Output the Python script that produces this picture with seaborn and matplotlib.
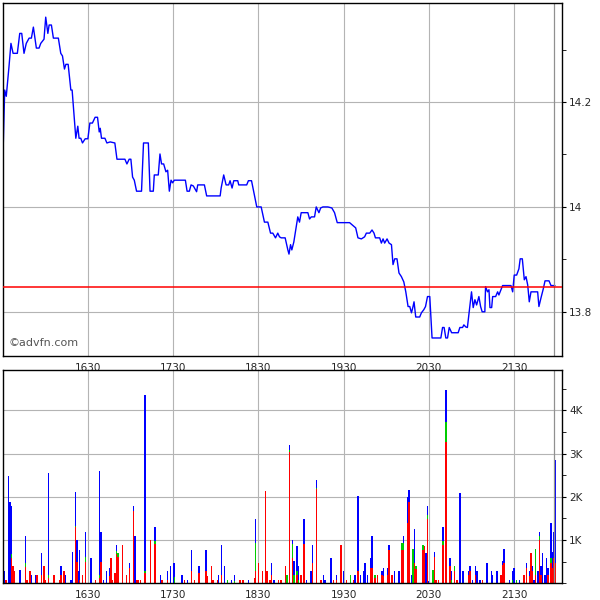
import numpy as np
import pandas as pd
import seaborn as sns
import matplotlib.pyplot as plt
from matplotlib.ticker import FixedLocator, MultipleLocator

# --- price trace (minutes after 15:30) ---
price_minute = [0, 1.2, 2.3, 4.2, 5.6, 7.1, 10.1, 11.8, 13.2, 14.8,
                16.4, 18.4, 20.0, 21.4, 23.5, 25.4, 26.6, 28.9, 30.1, 31.6,
                32.5, 34.1, 35.5, 39.0, 40.7, 41.9, 43.3, 44.3, 45.9, 47.8,
                48.7, 51.3, 52.7, 53.6, 54.8, 56.0, 57.9, 59.8, 61.2, 63.0,
                64.9, 66.6, 67.8, 68.5, 69.4, 71.8, 73.2, 75.5, 78.8, 80.3,
                85.9, 87.3, 88.9, 90.1, 91.3, 92.5, 94.1, 97.6, 99.0, 102.4,
                103.6, 105.9, 106.6, 109.4, 110.6, 111.7, 113.2, 114.8, 116.0, 117.2,
                118.4, 119.5, 120.7, 128.5, 129.7, 131.3, 132.5, 134.1, 136.4, 137.2,
                141.9, 143.5, 153.0, 153.7, 155.5, 157.2, 159.0, 160.0, 161.4, 162.6,
                165.4, 166.1, 171.7, 172.9, 175.1, 176.0, 177.2, 178.8, 181.9, 184.2,
                186.6, 188.5, 190.1, 192.0, 193.6, 194.8, 196.0, 198.8, 200.7, 201.5,
                202.6, 203.5, 204.9, 206.6, 207.7, 208.9, 210.1, 214.8, 216.0, 217.2,
                219.5, 220.7, 222.6, 223.8, 225.4, 228.9, 231.7, 233.6, 235.5, 244.2,
                248.5, 250.1, 252.5, 254.8, 256.0, 258.4, 260.0, 261.4, 262.4, 265.4,
                266.6, 267.8, 268.9, 270.6, 272.0, 273.7, 274.8, 276.0, 277.6, 279.0,
                280.7, 282.4, 283.8, 285.4, 286.6, 287.8, 288.9, 289.6, 290.8, 293.6,
                294.8, 296.5, 297.7, 299.1, 300.7, 302.3, 308.5, 309.7, 310.8, 312.0,
                313.2, 314.4, 316.1, 320.7, 321.9, 323.8, 324.7, 326.1, 327.2, 328.2,
                330.1, 331.3, 332.5, 333.7, 335.3, 336.5, 337.6, 339.5, 340.0, 341.4,
                342.4, 343.1, 344.3, 345.0, 347.1, 348.5, 349.4, 350.8, 352.0, 357.9,
                359.1, 360.2, 361.9, 363.5, 364.4, 365.9, 367.3, 368.5, 369.7, 370.8,
                372.0, 376.7, 377.6, 379.1, 380.7, 381.9, 384.7, 386.1, 388.9]
price_value = [14.10, 14.223, 14.211, 14.267, 14.312, 14.293, 14.293, 14.331, 14.331, 14.293,
               14.312, 14.322, 14.322, 14.343, 14.303, 14.303, 14.312, 14.320, 14.362, 14.331,
               14.347, 14.347, 14.322, 14.322, 14.293, 14.288, 14.263, 14.272, 14.272, 14.223,
               14.223, 14.131, 14.154, 14.131, 14.131, 14.122, 14.130, 14.130, 14.160, 14.160,
               14.171, 14.171, 14.143, 14.150, 14.131, 14.131, 14.122, 14.124, 14.122, 14.091,
               14.091, 14.082, 14.091, 14.091, 14.057, 14.051, 14.030, 14.030, 14.122, 14.122,
               14.030, 14.030, 14.061, 14.061, 14.101, 14.082, 14.082, 14.067, 14.070, 14.030,
               14.051, 14.046, 14.051, 14.051, 14.030, 14.030, 14.042, 14.040, 14.029, 14.042,
               14.042, 14.021, 14.021, 14.036, 14.061, 14.042, 14.042, 14.050, 14.036, 14.050,
               14.050, 14.042, 14.042, 14.050, 14.050, 14.038, 14.023, 14.000, 14.000, 13.971,
               13.971, 13.950, 13.950, 13.941, 13.950, 13.943, 13.941, 13.941, 13.918, 13.910,
               13.928, 13.918, 13.933, 13.962, 13.981, 13.971, 13.989, 13.989, 13.977, 13.981,
               13.981, 14.000, 13.989, 13.998, 14.000, 14.000, 13.998, 13.989, 13.970, 13.970,
               13.960, 13.941, 13.939, 13.943, 13.950, 13.950, 13.956, 13.950, 13.941, 13.941,
               13.931, 13.939, 13.931, 13.939, 13.931, 13.928, 13.890, 13.901, 13.901, 13.874,
               13.867, 13.857, 13.838, 13.810, 13.810, 13.798, 13.810, 13.819, 13.790, 13.790,
               13.798, 13.804, 13.810, 13.829, 13.829, 13.750, 13.750, 13.770, 13.770, 13.750,
               13.750, 13.770, 13.760, 13.760, 13.770, 13.770, 13.775, 13.771, 13.770, 13.794,
               13.838, 13.808, 13.823, 13.813, 13.829, 13.810, 13.800, 13.800, 13.848, 13.838,
               13.842, 13.808, 13.808, 13.829, 13.829, 13.838, 13.832, 13.842, 13.850, 13.850,
               13.838, 13.870, 13.870, 13.882, 13.901, 13.901, 13.861, 13.867, 13.851, 13.819,
               13.838, 13.838, 13.810, 13.827, 13.844, 13.859, 13.859, 13.850, 13.850]
prev_close = 13.848

# --- volume per minute, split by trade colour ---
bar_minute = [0, 1, 2, 4, 5, 6, 7, 8, 12, 16, 17, 19, 20, 23, 24, 27, 29, 30, 32, 36,
              40, 41, 43, 44, 48, 49, 51, 52, 53, 54, 56, 58, 62, 65, 68, 69, 71, 73, 75, 76,
              77, 79, 80, 81, 84, 87, 89, 92, 93, 94, 95, 97, 100, 104, 107, 111, 112, 116, 118, 120,
              121, 126, 128, 130, 133, 135, 138, 143, 144, 147, 148, 151, 152, 154, 156, 158, 161, 163, 167, 169,
              173, 177, 178, 180, 183, 185, 186, 188, 189, 191, 194, 196, 199, 200, 202, 204, 205, 207, 208, 210,
              212, 214, 217, 218, 221, 224, 226, 227, 231, 233, 235, 238, 240, 242, 245, 247, 248, 250, 252, 254,
              255, 257, 259, 260, 262, 264, 267, 268, 271, 272, 274, 276, 279, 281, 282, 285, 286, 288, 289, 290,
              291, 296, 297, 298, 299, 300, 303, 304, 305, 307, 310, 312, 315, 316, 318, 320, 322, 324, 328, 329,
              331, 333, 334, 336, 338, 341, 344, 345, 348, 351, 352, 353, 357, 359, 360, 362, 364, 367, 369, 371,
              372, 373, 374, 375, 377, 378, 379, 380, 382, 383, 384, 386, 387, 388, 389]
vol_red = [2220, 0, 85, 0, 0, 590, 395, 280, 0, 370, 85, 280, 0, 0, 186, 190, 395, 85, 120, 186,
           85, 190, 280, 0, 0, 0, 1290, 500, 0, 85, 186, 480, 0, 85, 110, 480, 0, 0, 160, 590,
           85, 240, 670, 600, 885, 190, 350, 1674, 0, 85, 85, 85, 240, 1000, 900, 0, 85, 85, 0, 0,
           0, 0, 85, 0, 280, 85, 240, 280, 160, 395, 85, 85, 0, 186, 0, 0, 0, 0, 85, 85,
           0, 120, 280, 458, 280, 2140, 280, 85, 190, 0, 85, 85, 395, 0, 3030, 590, 0, 186, 0, 186,
           900, 0, 0, 477, 2180, 85, 0, 0, 0, 85, 85, 885, 0, 85, 0, 85, 0, 280, 0, 0,
           0, 0, 350, 350, 120, 186, 186, 160, 186, 776, 186, 0, 0, 760, 760, 1400, 1870, 0, 0, 477,
           320, 776, 853, 0, 1480, 0, 0, 605, 85, 85, 876, 3264, 395, 0, 279, 85, 0, 0, 186, 280,
           0, 186, 0, 0, 85, 0, 0, 0, 0, 186, 430, 477, 0, 0, 0, 0, 0, 186, 350, 160,
           705, 280, 0, 190, 0, 992, 190, 0, 0, 0, 190, 458, 350, 589, 477]
vol_green = [0, 0, 0, 0, 0, 80, 0, 0, 0, 100, 0, 0, 0, 0, 0, 0, 0, 0, 60, 0,
             0, 0, 0, 0, 0, 0, 40, 0, 0, 0, 0, 120, 0, 0, 80, 0, 0, 0, 0, 0,
             0, 0, 80, 100, 0, 0, 0, 0, 0, 0, 0, 0, 50, 0, 70, 0, 0, 0, 0, 0,
             150, 0, 0, 0, 0, 0, 0, 0, 0, 0, 0, 0, 0, 0, 0, 85, 0, 60, 0, 0,
             0, 0, 660, 0, 0, 0, 0, 0, 0, 0, 0, 0, 0, 186, 50, 320, 200, 100, 85, 0,
             0, 0, 0, 0, 30, 0, 0, 0, 0, 0, 0, 0, 0, 0, 186, 0, 0, 0, 0, 0,
             0, 0, 0, 0, 70, 0, 0, 0, 0, 0, 0, 0, 0, 180, 160, 0, 0, 0, 783, 0,
             80, 110, 0, 0, 100, 0, 295, 0, 0, 0, 100, 456, 0, 85, 116, 0, 0, 0, 0, 0,
             0, 0, 0, 0, 0, 0, 0, 0, 0, 0, 0, 0, 0, 85, 0, 85, 0, 0, 0, 0,
             0, 0, 0, 593, 0, 90, 0, 0, 0, 0, 0, 130, 0, 0, 0]
vol_blue = [0, 280, 0, 2490, 1890, 1120, 0, 0, 295, 620, 0, 0, 186, 186, 0, 515, 0, 0, 2360, 0,
            0, 205, 0, 186, 85, 730, 770, 500, 280, 680, 0, 590, 590, 0, 2400, 700, 85, 280, 190, 0,
            0, 0, 135, 0, 0, 0, 110, 116, 1093, 0, 0, 0, 4060, 0, 320, 186, 0, 200, 395, 458,
            310, 186, 0, 85, 500, 0, 155, 500, 0, 0, 0, 0, 186, 700, 395, 0, 85, 130, 0, 0,
            85, 0, 540, 0, 0, 0, 0, 0, 270, 85, 0, 0, 0, 0, 110, 90, 312, 570, 310, 0,
            580, 85, 280, 410, 190, 0, 186, 85, 590, 0, 100, 0, 280, 0, 0, 0, 186, 1745, 186, 280,
            458, 186, 240, 740, 0, 0, 100, 190, 160, 110, 0, 280, 280, 0, 170, 600, 290, 186, 0, 770,
            0, 0, 0, 705, 210, 40, 0, 116, 0, 0, 324, 762, 194, 200, 0, 0, 2086, 280, 100, 115,
            85, 210, 280, 85, 0, 458, 280, 186, 280, 0, 82, 306, 85, 195, 350, 0, 85, 0, 108, 120,
            0, 115, 85, 0, 280, 104, 205, 705, 190, 589, 160, 815, 371, 597, 2384]

tick_minutes = [60, 120, 180, 240, 300, 360]
tick_labels = ['1630', '1730', '1830', '1930', '2030', '2130']
price_ticks = [13.8, 14.0, 14.2]
price_tick_labels = ['13.8', '14', '14.2']
vol_ticks = [1000, 2000, 3000, 4000]
vol_tick_labels = ['1K', '2K', '3K', '4K']

vol = pd.DataFrame({'minute': bar_minute, 'red': vol_red,
                    'green': vol_green, 'blue': vol_blue})
vol_long = vol.melt(id_vars='minute', var_name='kind', value_name='volume')

sns.set_style('white')
plt.rcParams['font.family'] = ['DejaVu Sans']

fig = plt.figure(figsize=(6, 6), dpi=100)
ax1 = fig.add_axes([0.005, 0.407, 0.932, 0.588])
ax2 = fig.add_axes([0.005, 0.028, 0.932, 0.355])

grid_kw = dict(color='#b4b4b4', linewidth=0.8)

# price panel
sns.lineplot(x=price_minute, y=price_value, ax=ax1, color='#0000ff',
             linewidth=1.0, estimator=None, sort=False)
ax1.axhline(prev_close, color='#ff0000', linewidth=1.1, zorder=3)
ax1.axvline(388.5, color='#909090', linewidth=0.9)
ax1.set_xlim(0, 394)
ax1.set_ylim(13.716, 14.389)
ax1.yaxis.set_major_locator(FixedLocator(price_ticks))
ax1.set_yticklabels(price_tick_labels)
ax1.yaxis.set_minor_locator(MultipleLocator(0.1))
ax1.text(0.009, 0.022, '\u00a9advfn.com', transform=ax1.transAxes,
         fontsize=8, color='#555555', ha='left', va='bottom')

# volume panel: red at the bottom, green, then blue on top
sns.histplot(data=vol_long, x='minute', weights='volume', hue='kind',
             hue_order=['blue', 'green', 'red'],
             palette={'red': '#ff0000', 'green': '#00cc00', 'blue': '#0000ff'},
             multiple='stack', discrete=True, shrink=1.0, linewidth=0,
             alpha=1, legend=False, ax=ax2)
for p in ax2.patches:
    p.set_antialiased(False)
ax2.axvline(388.5, color='#909090', linewidth=0.9)
ax2.set_xlim(0, 394)
ax2.set_ylim(0, 4930)
ax2.yaxis.set_major_locator(FixedLocator(vol_ticks))
ax2.set_yticklabels(vol_tick_labels)
ax2.yaxis.set_minor_locator(MultipleLocator(500))

for ax in (ax1, ax2):
    ax.set_xticks(tick_minutes)
    ax.set_xticklabels(tick_labels)
    ax.yaxis.tick_right()
    ax.grid(True, which='major', **grid_kw)
    ax.set_axisbelow(True)
    ax.set_xlabel('')
    ax.set_ylabel('')
    ax.tick_params(axis='both', which='major', labelsize=7.5, length=3,
                   direction='out', color='black', pad=2)
    ax.tick_params(axis='y', which='minor', length=3, direction='out', color='black')
    for s in ax.spines.values():
        s.set_color('black')
        s.set_linewidth(1.0)

fig.savefig('out.png', dpi=100)
